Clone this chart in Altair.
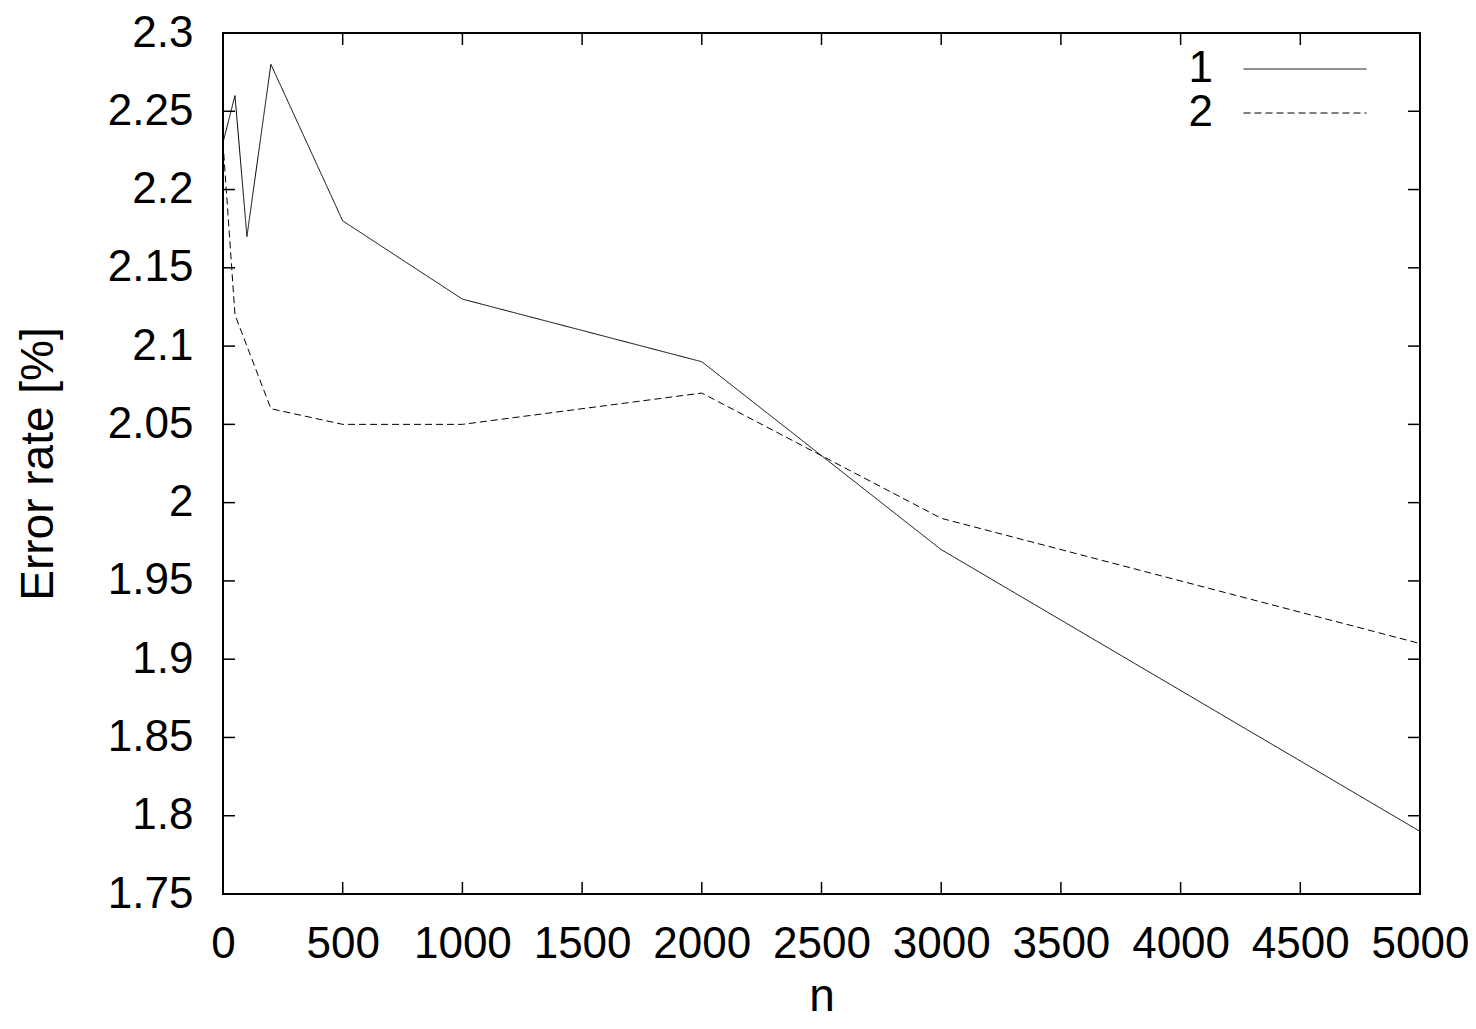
import altair as alt
import pandas as pd

# ---- data ----
n1 = [0, 50, 100, 200, 500, 1000, 2000, 3000, 5000]
err1 = [2.23, 2.26, 2.17, 2.28, 2.18, 2.13, 2.09, 1.97, 1.79]
n2 = [0, 50, 200, 500, 1000, 2000, 3000, 5000]
err2 = [2.23, 2.12, 2.06, 2.05, 2.05, 2.07, 1.99, 1.91]
series_names = ["1", "2"]
x_ticks = [0, 500, 1000, 1500, 2000, 2500, 3000, 3500, 4000, 4500, 5000]
y_ticks = [1.75, 1.8, 1.85, 1.9, 1.95, 2.0, 2.05, 2.1, 2.15, 2.2, 2.25, 2.3]

W, H = 1197, 861
FONT = "Liberation Sans"

df = pd.concat([
    pd.DataFrame({"n": n1, "err": err1, "series": series_names[0]}),
    pd.DataFrame({"n": n2, "err": err2, "series": series_names[1]}),
])
xt = pd.DataFrame({"v": x_ticks})
yt = pd.DataFrame({"v": y_ticks})

xscale = alt.Scale(domain=[0, 5000], nice=False)
yscale = alt.Scale(domain=[1.75, 2.3], nice=False, zero=False)

xaxis = alt.Axis(values=x_ticks, format="d", ticks=False, domain=False, grid=False,
                 labelPadding=28, labelOverlap=False, labelFlush=False,
                 title="n", titleBaseline="alphabetic", titleY=116, titleX=W / 2)
yaxis = alt.Axis(values=y_ticks, format="~g", ticks=False, domain=False, grid=False,
                 labelPadding=30, labelOverlap=False, labelFlush=False,
                 title="Error rate [%]", titleBaseline="alphabetic",
                 titleAngle=270, titleX=-171, titleY=H / 2, titleAlign="center")

# legend sample: a wide horizontal line drawn as a custom symbol path
SYM = 41
lines = alt.Chart(df).mark_line(color="black", strokeWidth=1).encode(
    x=alt.X("n:Q", scale=xscale, axis=xaxis),
    y=alt.Y("err:Q", scale=yscale, axis=yaxis),
    strokeDash=alt.StrokeDash(
        "series:N",
        scale=alt.Scale(domain=series_names, range=[[1, 0], [7, 4]]),
        legend=alt.Legend(title=None, orient="none", legendX=1060, legendY=14,
                          symbolType="M-3,0H3", symbolSize=SYM * SYM,
                          symbolStrokeWidth=1, symbolStrokeColor="black",
                          symbolFillColor="transparent",
                          rowPadding=0,
                          labelAlign="right", labelOffset={"expr": "-114"},
                          labelFontSize=44, labelFont=FONT, labelColor="black"),
    ),
    order="n:Q",
)

tick_len = 12
xb = alt.Chart(xt).mark_rule(color="black", strokeWidth=1.5).encode(
    x=alt.X("v:Q", scale=xscale), y=alt.value(H), y2=alt.value(H - tick_len))
xtp = alt.Chart(xt).mark_rule(color="black", strokeWidth=1.5).encode(
    x=alt.X("v:Q", scale=xscale), y=alt.value(0), y2=alt.value(tick_len))
yl = alt.Chart(yt).mark_rule(color="black", strokeWidth=1.5).encode(
    y=alt.Y("v:Q", scale=yscale), x=alt.value(0), x2=alt.value(tick_len))
yr = alt.Chart(yt).mark_rule(color="black", strokeWidth=1.5).encode(
    y=alt.Y("v:Q", scale=yscale), x=alt.value(W), x2=alt.value(W - tick_len))

chart = alt.layer(lines, xb, xtp, yl, yr).properties(
    width=W, height=H,
    autosize=alt.AutoSizeParams(type="none"),
    padding={"left": 215, "top": 25, "right": 48, "bottom": 126},
    background="white",
).configure_view(
    stroke="black", strokeWidth=2
).configure_axis(
    labelFont=FONT, labelFontSize=44, labelColor="black",
    titleFont=FONT, titleFontSize=46, titleFontWeight="normal", titleColor="black",
).configure_legend(
    labelFont=FONT, labelFontSize=44, labelColor="black",
)

chart.save("out.html", embed_options={"renderer": "svg", "actions": False})
